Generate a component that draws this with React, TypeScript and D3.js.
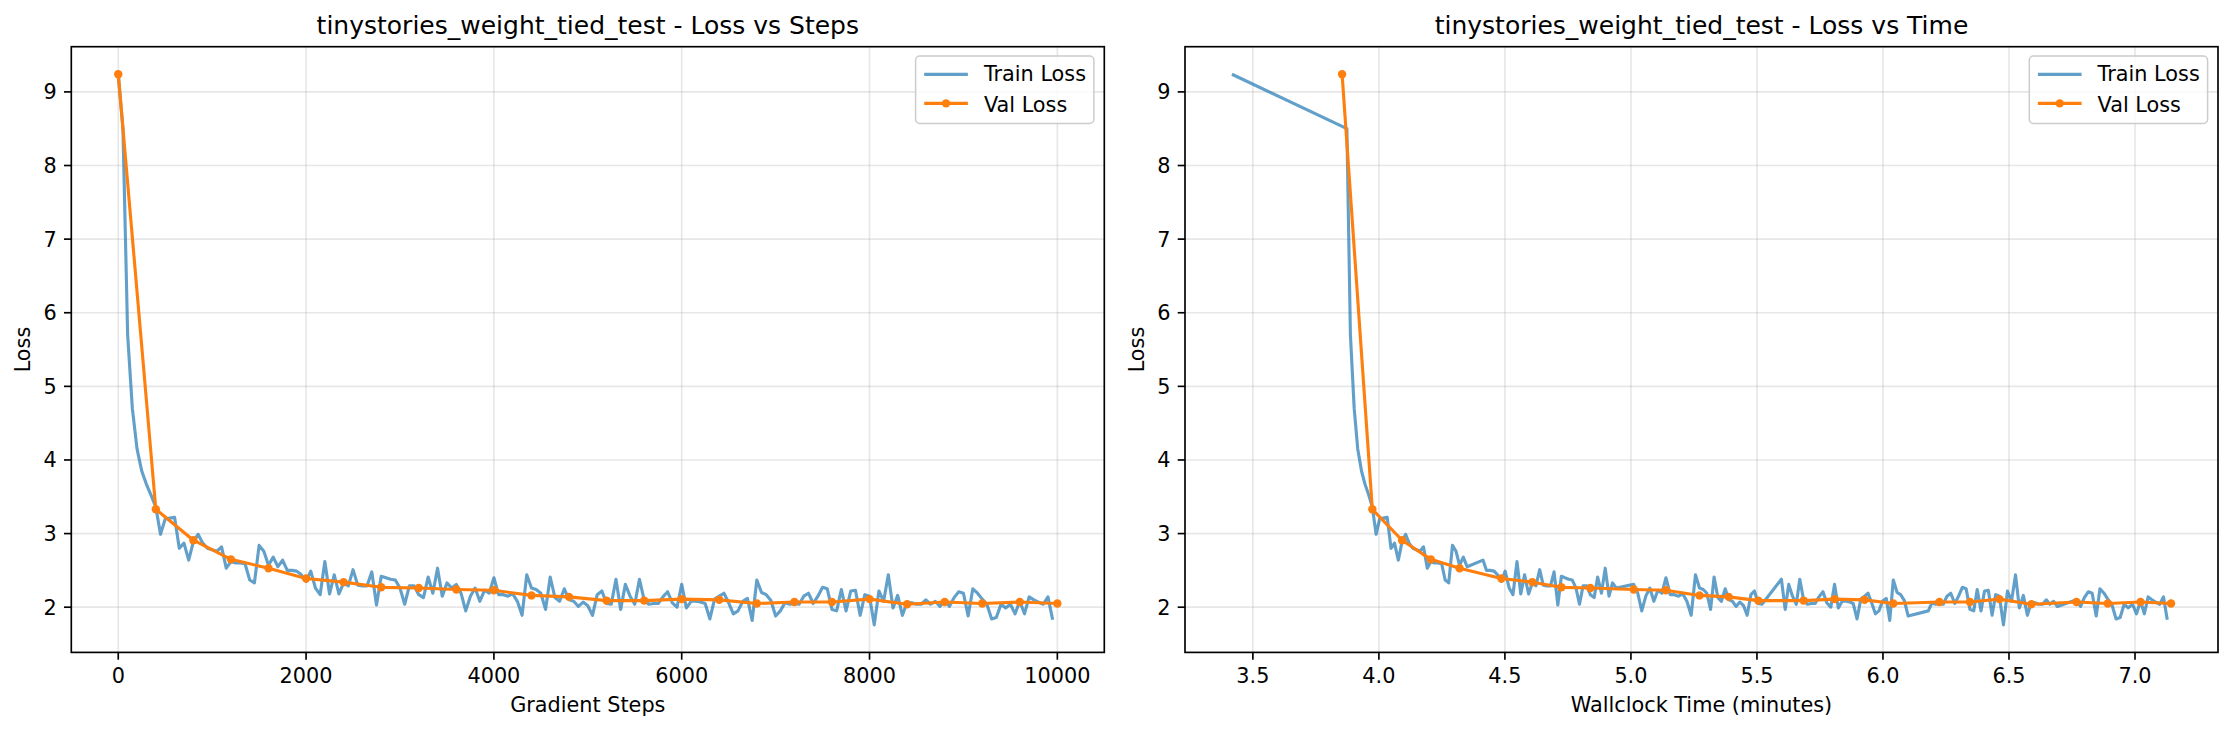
import React, { useEffect } from "react";
import * as d3 from "d3";

// ---------------- data ----------------
const trainSteps = [
  0, 50, 100, 150, 200, 250, 300, 350, 400, 450,
  500, 550, 600, 650, 700, 750, 800, 850, 900, 950,
  1000, 1050, 1100, 1150, 1200, 1250, 1300, 1350, 1400, 1450,
  1500, 1550, 1600, 1650, 1700, 1750, 1800, 1850, 1900, 1950,
  2000, 2050, 2100, 2150, 2200, 2250, 2300, 2350, 2400, 2450,
  2500, 2550, 2600, 2650, 2700, 2750, 2800, 2850, 2900, 2950,
  3000, 3050, 3100, 3150, 3200, 3250, 3300, 3350, 3400, 3450,
  3500, 3550, 3600, 3650, 3700, 3750, 3800, 3850, 3900, 3950,
  4000, 4050, 4100, 4150, 4200, 4250, 4300, 4350, 4400, 4450,
  4500, 4550, 4600, 4650, 4700, 4750, 4800, 4850, 4900, 4950,
  5000, 5050, 5100, 5150, 5200, 5250, 5300, 5350, 5400, 5450,
  5500, 5550, 5600, 5650, 5700, 5750, 5800, 5850, 5900, 5950,
  6000, 6050, 6100, 6150, 6200, 6250, 6300, 6350, 6400, 6450,
  6500, 6550, 6600, 6650, 6700, 6750, 6800, 6850, 6900, 6950,
  7000, 7050, 7100, 7150, 7200, 7250, 7300, 7350, 7400, 7450,
  7500, 7550, 7600, 7650, 7700, 7750, 7800, 7850, 7900, 7950,
  8000, 8050, 8100, 8150, 8200, 8250, 8300, 8350, 8400, 8450,
  8500, 8550, 8600, 8650, 8700, 8750, 8800, 8850, 8900, 8950,
  9000, 9050, 9100, 9150, 9200, 9250, 9300, 9350, 9400, 9450,
  9500, 9550, 9600, 9650, 9700, 9750, 9800, 9850, 9900, 9950,
];

const trainTimes = [
  3.417, 3.873, 3.887, 3.902, 3.916, 3.931, 3.945, 3.96, 3.974, 3.989,
  4.003, 4.018, 4.033, 4.048, 4.062, 4.077, 4.092, 4.106, 4.12, 4.135,
  4.149, 4.163, 4.177, 4.192, 4.206, 4.22, 4.235, 4.249, 4.263, 4.277,
  4.292, 4.306, 4.32, 4.335, 4.35, 4.413, 4.427, 4.442, 4.457, 4.471,
  4.486, 4.501, 4.517, 4.532, 4.548, 4.563, 4.578, 4.594, 4.609, 4.623,
  4.638, 4.652, 4.667, 4.681, 4.695, 4.71, 4.724, 4.738, 4.753, 4.767,
  4.782, 4.796, 4.81, 4.825, 4.839, 4.854, 4.868, 4.883, 4.898, 4.913,
  4.927, 4.942, 5.011, 5.027, 5.043, 5.059, 5.075, 5.091, 5.107, 5.123,
  5.139, 5.156, 5.172, 5.189, 5.206, 5.222, 5.239, 5.256, 5.272, 5.287,
  5.301, 5.316, 5.33, 5.345, 5.359, 5.374, 5.388, 5.403, 5.417, 5.432,
  5.447, 5.461, 5.476, 5.49, 5.505, 5.52, 5.597, 5.612, 5.626, 5.641,
  5.656, 5.67, 5.685, 5.7, 5.716, 5.731, 5.746, 5.762, 5.777, 5.793,
  5.808, 5.823, 5.838, 5.853, 5.868, 5.882, 5.897, 5.912, 5.927, 5.941,
  5.955, 5.97, 5.984, 5.998, 6.013, 6.027, 6.041, 6.056, 6.07, 6.085,
  6.1, 6.18, 6.194, 6.209, 6.224, 6.239, 6.254, 6.269, 6.285, 6.3,
  6.315, 6.33, 6.345, 6.36, 6.374, 6.389, 6.403, 6.418, 6.433, 6.447,
  6.462, 6.478, 6.494, 6.51, 6.526, 6.541, 6.557, 6.573, 6.589, 6.604,
  6.618, 6.633, 6.648, 6.662, 6.677, 6.692, 6.768, 6.784, 6.799, 6.815,
  6.83, 6.846, 6.861, 6.877, 6.892, 6.908, 6.925, 6.941, 6.957, 6.973,
  6.99, 7.006, 7.022, 7.037, 7.052, 7.067, 7.082, 7.098, 7.113, 7.128,
];

const trainLoss = [
  9.24, 8.5, 5.7, 4.7, 4.15, 3.85, 3.67, 3.52, 3.36, 2.99,
  3.2, 3.21, 3.22, 2.8, 2.87, 2.64, 2.89, 2.99, 2.87, 2.8,
  2.78, 2.76, 2.82, 2.53, 2.62, 2.6, 2.6, 2.59, 2.37, 2.33,
  2.84, 2.76, 2.57, 2.68, 2.55, 2.64, 2.5, 2.5, 2.49, 2.44,
  2.35, 2.49, 2.26, 2.17, 2.62, 2.18, 2.44, 2.18, 2.33, 2.29,
  2.51, 2.3, 2.29, 2.29, 2.48, 2.03, 2.42, 2.4, 2.38, 2.37,
  2.26, 2.04, 2.29, 2.29, 2.17, 2.13, 2.41, 2.19, 2.53, 2.15,
  2.33, 2.26, 2.31, 2.19, 1.95, 2.15, 2.26, 2.08, 2.23, 2.19,
  2.4, 2.17, 2.17, 2.15, 2.18, 2.08, 1.89, 2.44, 2.26, 2.24,
  2.19, 1.97, 2.41, 2.13, 2.08, 2.25, 2.1, 2.08, 2.01, 2.07,
  2.02, 1.89, 2.17, 2.22, 2.05, 2.04, 2.38, 1.97, 2.31, 2.15,
  2.04, 2.38, 2.1, 2.04, 2.05, 2.05, 2.14, 2.21, 2.06, 2.0,
  2.31, 1.99, 2.08, 2.08, 2.07, 2.05, 1.84, 2.11, 2.15, 2.19,
  2.06, 1.91, 1.95, 2.08, 2.12, 1.82, 2.37, 2.2, 2.17, 2.09,
  1.88, 1.95, 2.06, 2.04, 2.05, 2.04, 2.15, 2.19, 2.05, 2.15,
  2.27, 2.25, 1.97, 1.95, 2.24, 1.95, 2.22, 2.23, 1.89, 2.17,
  2.15, 1.76, 2.22, 2.08, 2.44, 1.99, 2.16, 1.89, 2.07, 2.06,
  2.04, 2.04, 2.1, 2.04, 2.08, 2.01, 2.1, 2.01, 2.13, 2.21,
  2.19, 1.88, 2.25, 2.19, 2.11, 2.04, 1.84, 1.86, 2.04, 1.99,
  2.04, 1.91, 2.08, 1.91, 2.14, 2.1, 2.07, 2.04, 2.14, 1.83,
];

const valSteps = [
  0, 400, 800, 1200, 1600, 2000, 2400, 2800, 3200, 3600, 4000, 4400, 4800,
  5200, 5600, 6000, 6400, 6800, 7200, 7600, 8000, 8400, 8800, 9200, 9600, 10000,
];
const valTimes = [
  3.854, 3.974, 4.092, 4.206, 4.32, 4.486, 4.609, 4.724, 4.839, 5.011, 5.139,
  5.272, 5.388, 5.505, 5.685, 5.808, 5.927, 6.041, 6.224, 6.345, 6.462, 6.589,
  6.768, 6.892, 7.022, 7.143,
];
const valLoss = [
  9.24, 3.33, 2.91, 2.65, 2.53, 2.39, 2.34, 2.27, 2.26, 2.24, 2.23, 2.16, 2.14,
  2.09, 2.09, 2.11, 2.1, 2.05, 2.07, 2.07, 2.11, 2.04, 2.07, 2.05, 2.07, 2.05,
];

const stepTicks = [0, 2000, 4000, 6000, 8000, 10000];
const timeTicks = [3.5, 4.0, 4.5, 5.0, 5.5, 6.0, 6.5, 7.0];
const lossTicks = [2, 3, 4, 5, 6, 7, 8, 9];

const runName = "tinystories_weight_tied_test";
const seriesNames = ["Train Loss", "Val Loss"];

// ---------------- layout / style ----------------
const W = 2234;
const H = 731;
const AX_TOP = 46.7;
const AX_BOTTOM = 652.4;
const FONT = "'DejaVu Sans', 'Liberation Sans', sans-serif";
const TICK_FS = 20.8;
const TITLE_FS = 25;
const LW = 3.125;
const TICK_LEN = 7.3;
const SPINE_W = 1.67;
const C_TRAIN = "#1f77b4";
const C_VAL = "#ff7f0e";

function padded(ext: [number, number]): [number, number] {
  const d = (ext[1] - ext[0]) * 0.05;
  return [ext[0] - d, ext[1] + d];
}

type PanelProps = {
  id: string;
  x0: number;
  x1: number;
  title: string;
  xlabel: string;
  trainX: number[];
  valX: number[];
  xTicks: number[];
  xFmt: (v: number) => string;
};

function Panel({ id, x0, x1, title, xlabel, trainX, valX, xTicks, xFmt }: PanelProps) {
  const xDom = padded(d3.extent([...trainX, ...valX]) as [number, number]);
  const yDom = padded(d3.extent([...trainLoss, ...valLoss]) as [number, number]);
  const x = d3.scaleLinear().domain(xDom).range([x0, x1]);
  const y = d3.scaleLinear().domain(yDom).range([AX_BOTTOM, AX_TOP]);

  const line = d3
    .line<[number, number]>()
    .x((d) => x(d[0]))
    .y((d) => y(d[1]));

  const trainPts: [number, number][] = trainX.map((v, i) => [v, trainLoss[i]]);
  const valPts: [number, number][] = valX.map((v, i) => [v, valLoss[i]]);

  const cx = (x0 + x1) / 2;
  const cy = (AX_TOP + AX_BOTTOM) / 2;

  // legend geometry
  const legW = 178.3;
  const legH = 67.3;
  const legR = x1 - 10.4;
  const legL = legR - legW;
  const legT = AX_TOP + 9.4;

  return (
    <g>
      <defs>
        <clipPath id={`clip-${id}`}>
          <rect x={x0} y={AX_TOP} width={x1 - x0} height={AX_BOTTOM - AX_TOP} />
        </clipPath>
      </defs>
      {/* grid */}
      <g stroke="#b0b0b0" strokeOpacity={0.3} strokeWidth={1.67}>
        {xTicks.map((t) => (
          <line key={`gx${t}`} x1={x(t)} x2={x(t)} y1={AX_TOP} y2={AX_BOTTOM} />
        ))}
        {lossTicks.map((t) => (
          <line key={`gy${t}`} x1={x0} x2={x1} y1={y(t)} y2={y(t)} />
        ))}
      </g>
      {/* series */}
      <g clipPath={`url(#clip-${id})`}>
        <path
          d={line(trainPts) || ""}
          fill="none"
          stroke={C_TRAIN}
          strokeOpacity={0.7}
          strokeWidth={LW}
          strokeLinejoin="round"
        />
        <path
          d={line(valPts) || ""}
          fill="none"
          stroke={C_VAL}
          strokeWidth={LW}
          strokeLinejoin="round"
        />
        {valPts.map((p, i) => (
          <circle key={i} cx={x(p[0])} cy={y(p[1])} r={4.2} fill={C_VAL} />
        ))}
      </g>
      {/* spines */}
      <rect
        x={x0}
        y={AX_TOP}
        width={x1 - x0}
        height={AX_BOTTOM - AX_TOP}
        fill="none"
        stroke="#000"
        strokeWidth={SPINE_W}
      />
      {/* x ticks */}
      <g fontFamily={FONT} fontSize={TICK_FS} fill="#000">
        {xTicks.map((t) => (
          <g key={`tx${t}`}>
            <line x1={x(t)} x2={x(t)} y1={AX_BOTTOM} y2={AX_BOTTOM + TICK_LEN} stroke="#000" strokeWidth={SPINE_W} />
            <text x={x(t)} y={683} textAnchor="middle">
              {xFmt(t)}
            </text>
          </g>
        ))}
        {lossTicks.map((t) => (
          <g key={`ty${t}`}>
            <line x1={x0 - TICK_LEN} x2={x0} y1={y(t)} y2={y(t)} stroke="#000" strokeWidth={SPINE_W} />
            <text x={x0 - 14.6} y={y(t)} dy="0.36em" textAnchor="end">
              {t}
            </text>
          </g>
        ))}
        <text x={cx} y={712} textAnchor="middle">
          {xlabel}
        </text>
        <text transform={`translate(${x0 - 41.3},${cy}) rotate(-90)`} textAnchor="middle">
          Loss
        </text>
      </g>
      <text x={cx} y={34} textAnchor="middle" fontFamily={FONT} fontSize={TITLE_FS} fill="#000">
        {title}
      </text>
      {/* legend */}
      <g fontFamily={FONT} fontSize={TICK_FS}>
        <rect
          x={legL}
          y={legT}
          width={legW}
          height={legH}
          rx={4.2}
          fill="#fff"
          fillOpacity={0.8}
          stroke="#cccccc"
          strokeWidth={1.5}
        />
        <line
          x1={legL + 8.6}
          x2={legL + 52.3}
          y1={legT + 18.3}
          y2={legT + 18.3}
          stroke={C_TRAIN}
          strokeOpacity={0.7}
          strokeWidth={LW}
        />
        <text x={legL + 68.3} y={legT + 24.7} fill="#000">
          {seriesNames[0]}
        </text>
        <line
          x1={legL + 8.6}
          x2={legL + 52.3}
          y1={legT + 47.3}
          y2={legT + 47.3}
          stroke={C_VAL}
          strokeWidth={LW}
        />
        <circle cx={legL + 30.45} cy={legT + 47.3} r={4.2} fill={C_VAL} />
        <text x={legL + 68.3} y={legT + 55.7} fill="#000">
          {seriesNames[1]}
        </text>
      </g>
    </g>
  );
}

export default function App() {
  useEffect(() => {
    document.body.style.margin = "0";
  }, []);
  const fmtSteps = d3.format("d");
  const fmtTime = d3.format(".1f");
  return (
    <div style={{ position: "absolute", left: 0, top: 0 }}>
      <svg width={W} height={H} viewBox={`0 0 ${W} ${H}`} style={{ display: "block", background: "#fff" }}>
        <rect width={W} height={H} fill="#fff" />
        <Panel
          id="steps"
          x0={71.3}
          x1={1104.3}
          title={`${runName} - Loss vs Steps`}
          xlabel="Gradient Steps"
          trainX={trainSteps}
          valX={valSteps}
          xTicks={stepTicks}
          xFmt={fmtSteps}
        />
        <Panel
          id="time"
          x0={1185}
          x1={2218}
          title={`${runName} - Loss vs Time`}
          xlabel="Wallclock Time (minutes)"
          trainX={trainTimes}
          valX={valTimes}
          xTicks={timeTicks}
          xFmt={fmtTime}
        />
      </svg>
    </div>
  );
}
